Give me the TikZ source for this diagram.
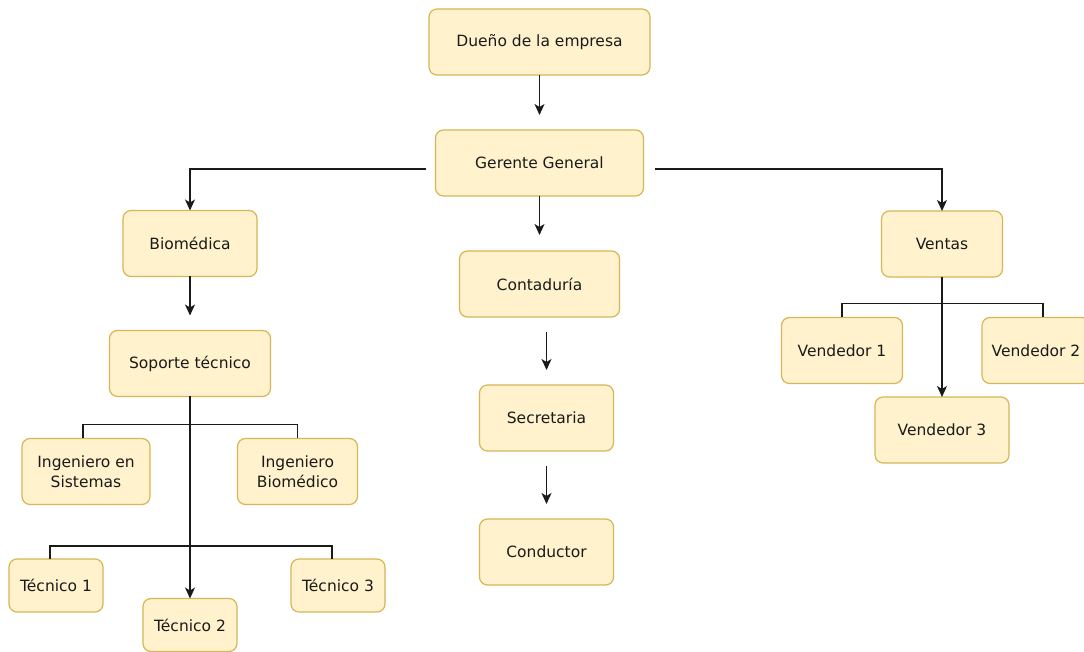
\documentclass[tikz,border=0pt]{standalone}
\usepackage{fontspec}
\setmainfont{DejaVu Sans}
\usepackage{tikz}
\usetikzlibrary{positioning, arrows.meta}
\definecolor{boxfill}{HTML}{FFF2CC}
\definecolor{boxdraw}{HTML}{D6B656}
\definecolor{linegray}{HTML}{1A1A1A}

\begin{document}
\begin{tikzpicture}[x=1pt, y=1pt, area/.style={rectangle, draw=boxdraw, fill=boxfill, line width=1.2pt, minimum height=66pt, outer sep=0pt, rounded corners=8pt, align=center, text=linegray, font=\fontsize{15.5}{20}\selectfont}, worker/.style={area, minimum height=53pt, minimum width=94pt}, link/.style={draw=linegray, line width=1.3pt}, arrow/.style={link, -{Stealth[length=11pt, width=10pt, inset=3pt]}}]

    \useasboundingbox (0,0) rectangle (1084,651);
    \clip (0,0) rectangle (1084,651);
    \fill[white] (0,0) rectangle (1084,651);

    % Nodes
    \node[area, minimum width=221pt] (dueno)        at (539.5,609)            {Dueño de la empresa};
    \node[area, minimum width=208pt] (gerente)      [below=55pt of dueno]     {Gerente General};
    \node[area, minimum width=160pt] (contaduria)   [below=55pt of gerente]   {Contaduría};
    \node[area, minimum width=134pt] (secretaria)   [below=68pt of contaduria, xshift=7pt] {Secretaria};
    \node[area, minimum width=134pt] (conductor)    [below=68pt of secretaria] {Conductor};

    \node[area, minimum width=134pt] (biomedica)    at (190,407.5)            {Biomédica};
    \node[area, minimum width=161pt] (soporte)      [below=54pt of biomedica] {Soporte técnico};
    \node[area, minimum width=128pt] (ingsistemas)  at (86,179.5)             {Ingeniero en\\Sistemas};
    \node[area, minimum width=120pt] (ingbiomedico) at (297.5,179.5)          {Ingeniero\\Biomédico};
    \node[worker]                    (tecnico1)     at (56,65.5)              {Técnico 1};
    \node[worker]                    (tecnico2)     at (190,26)               {Técnico 2};
    \node[worker]                    (tecnico3)     at (338,65.5)             {Técnico 3};

    \node[area, minimum width=121pt] (ventas)       at (942,407)              {Ventas};
    \node[area, minimum width=121pt] (vendedor1)    at (842,300.5)            {Vendedor 1};
    \node[area, minimum width=108pt] (vendedor2)    at (1036,300.5)           {Vendedor 2};
    \node[area, minimum width=134pt] (vendedor3)    [below=120pt of ventas]   {Vendedor 3};

    % Lines ---------------
    \draw[arrow, shorten >=15pt] (dueno.south) -- (gerente.north);
    \draw[arrow, shorten >=16pt] (gerente.south) -- (contaduria.north);
    \draw[arrow, shorten <=15pt, shorten >=15pt] (contaduria.south -| secretaria.north) -- (secretaria.north);
    \draw[arrow, shorten <=15pt, shorten >=15pt] (secretaria.south) -- (conductor.north);
    \draw[arrow, shorten <=10pt] ([yshift=-6pt]gerente.west) -| (biomedica.north);
    \draw[arrow, shorten <=11pt] ([yshift=-6pt]gerente.east) -| (ventas.north);

    \draw[arrow, shorten >=15pt] (biomedica.south) -- (soporte.north);
    \draw[link] ([xshift=-3pt]ingsistemas.north) -- ++(0,14) -| (ingbiomedico.north);
    \draw[link] ([xshift=-6pt]tecnico1.north) -- ++(0,13) -| ([xshift=-6pt]tecnico3.north);
    \draw[arrow] (soporte.south) -- (tecnico2.north);

    \draw[link] (vendedor1.north) -- ++(0,14) -| ([xshift=7pt]vendedor2.north);
    \draw[arrow] (ventas.south) -- (vendedor3.north);

\end{tikzpicture}
\end{document}
